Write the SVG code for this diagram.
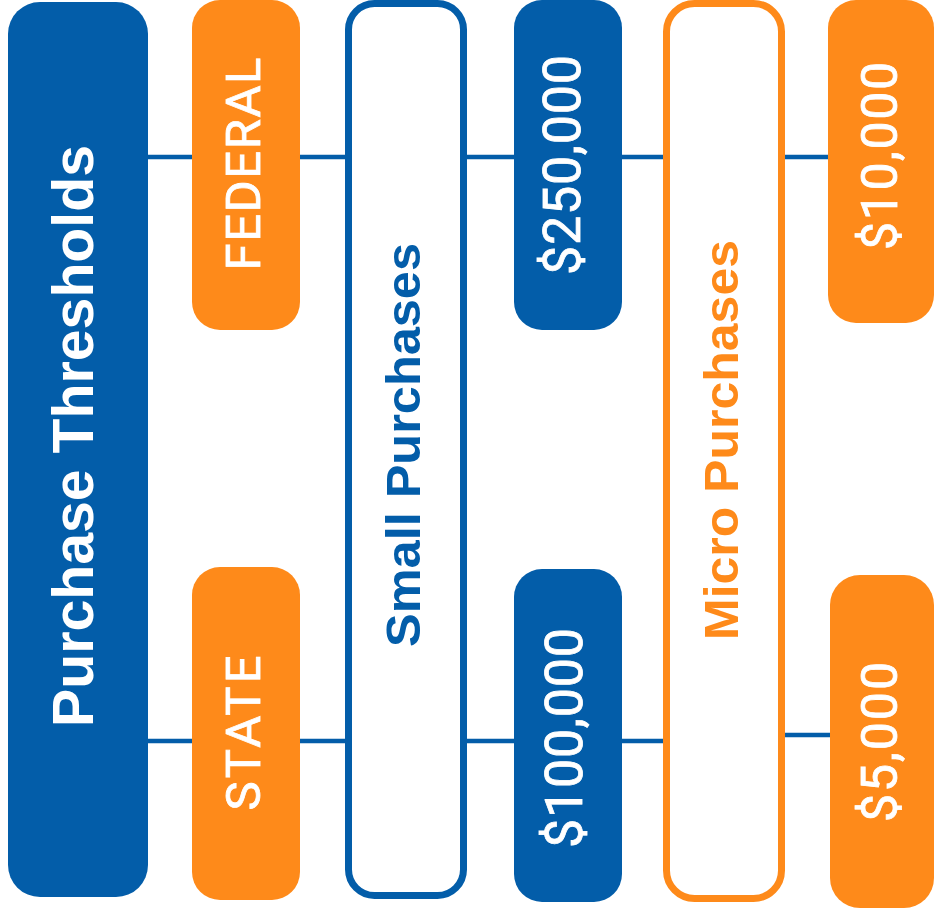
<svg xmlns="http://www.w3.org/2000/svg" width="934" height="916" viewBox="0 0 934 916">
<style>
.blue{fill:#035DA9}
.orange{fill:#FE8A1A}
.outB{fill:#fff;stroke:#035DA9;stroke-width:7}
.outO{fill:#fff;stroke:#FE8A1A;stroke-width:7}
.conn line{stroke:#035DA9;stroke-width:4.5}
text{font-family:"Liberation Sans",Arial,sans-serif;text-anchor:middle}
.tb{font-weight:bold}
.tr{font-family:Roboto,"Liberation Sans",sans-serif;font-weight:normal;stroke:#fff;stroke-width:0.8}
.w{fill:#fff}
.tblue{fill:#035DA9}
.torange{fill:#FE8A1A}
</style>
<rect width="934" height="916" fill="#fff"/>
<g id="connectors" class="conn">
<line x1="146" y1="157" x2="194" y2="157"/>
<line x1="298" y1="157" x2="349" y2="157"/>
<line x1="465" y1="157" x2="516" y2="157"/>
<line x1="620" y1="157" x2="665" y2="157"/>
<line x1="783" y1="157" x2="830" y2="157"/>
<line x1="146" y1="741" x2="194" y2="741"/>
<line x1="298" y1="741" x2="349" y2="741"/>
<line x1="465" y1="741" x2="516" y2="741"/>
<line x1="620" y1="741" x2="665" y2="741"/>
<line x1="783" y1="735" x2="832" y2="735"/>
</g>
<g id="purchase-thresholds">
<rect class="blue" x="8" y="2" width="140" height="895" rx="32"/>
<text class="tb w" font-size="58" textLength="582" lengthAdjust="spacingAndGlyphs" transform="translate(93,436) rotate(-90)">Purchase Thresholds</text>
</g>
<g id="federal">
<rect class="orange" x="192" y="0" width="108" height="330" rx="28"/>
<text class="tr w" font-size="49" textLength="213" lengthAdjust="spacing" transform="translate(260,164) rotate(-90)">FEDERAL</text>
</g>
<g id="state">
<rect class="orange" x="192" y="567" width="108" height="333" rx="28"/>
<text class="tr w" font-size="49" textLength="155" lengthAdjust="spacing" transform="translate(260,733) rotate(-90)">STATE</text>
</g>
<g id="small-purchases">
<rect class="outB" x="348.5" y="3.5" width="115" height="892" rx="26"/>
<text class="tb tblue" font-size="49" textLength="404" lengthAdjust="spacingAndGlyphs" transform="translate(420,445) rotate(-90)">Small Purchases</text>
</g>
<g id="small-federal">
<rect class="blue" x="514" y="0" width="108" height="330" rx="28"/>
<text class="tr w" font-size="52" textLength="220" lengthAdjust="spacing" transform="translate(580,165) rotate(-90)">$250,000</text>
</g>
<g id="small-state">
<rect class="blue" x="514" y="569" width="108" height="333" rx="28"/>
<text class="tr w" font-size="52" textLength="220" lengthAdjust="spacing" transform="translate(582,738) rotate(-90)">$100,000</text>
</g>
<g id="micro-purchases">
<rect class="outO" x="666.5" y="3.5" width="115" height="895" rx="28"/>
<text class="tb torange" font-size="49" textLength="400" lengthAdjust="spacingAndGlyphs" transform="translate(738,440) rotate(-90)">Micro Purchases</text>
</g>
<g id="micro-federal">
<rect class="orange" x="828" y="0" width="106" height="323" rx="28"/>
<text class="tr w" font-size="50" textLength="188" lengthAdjust="spacing" transform="translate(897,156) rotate(-90)">$10,000</text>
</g>
<g id="micro-state">
<rect class="orange" x="830" y="575" width="104" height="333" rx="30"/>
<text class="tr w" font-size="50" textLength="160" lengthAdjust="spacing" transform="translate(897,742) rotate(-90)">$5,000</text>
</g>
</svg>
